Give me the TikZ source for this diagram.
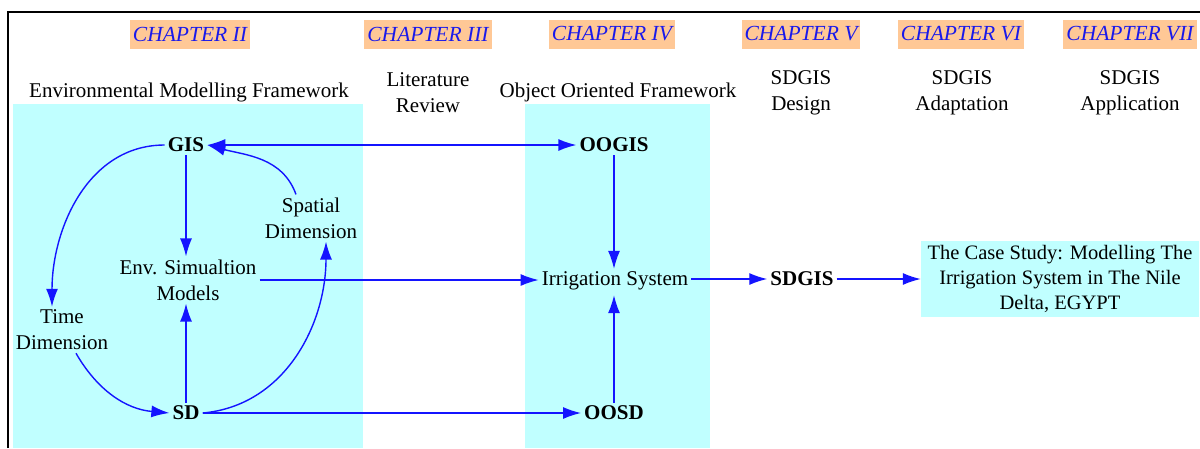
\documentclass[tikz,border=0pt]{standalone}
\usepackage{fontspec}
\setmainfont{Liberation Serif}
\usetikzlibrary{arrows.meta}
\definecolor{bgcyan}{RGB}{192,255,255}
\definecolor{peach}{RGB}{255,200,150}
\definecolor{chblue}{RGB}{25,25,235}
\definecolor{arrblue}{RGB}{20,20,255}
\begin{document}
\begin{tikzpicture}[x=1pt,y=-1pt,
  txt/.style={font=\fontsize{21}{26}\selectfont, align=center, inner sep=3pt},
  boldtxt/.style={font=\fontsize{21}{26}\selectfont\bfseries, align=center, inner sep=3pt},
  chap/.style={fill=peach, text=chblue, font=\fontsize{21.5}{26}\selectfont\itshape, inner xsep=3pt, inner ysep=0pt, minimum height=29pt},
  tip/.tip={Latex[length=18pt,width=12pt]},
  arr/.style={draw=arrblue, line width=1.4pt, -tip},
  ]
\useasboundingbox (0,0) rectangle (1200,448);
% background panels
\fill[bgcyan] (13,104) rectangle (363,448);
\fill[bgcyan] (525,104) rectangle (710,448);
% frame
\draw[line width=2pt] (8,448) -- (8,12) -- (1200,12);

% chapter labels
\node[chap] (c2) at (190,34) {CHAPTER II};
\node[chap] (c3) at (428,34) {CHAPTER III};
\node[chap] (c4) at (612,34) {CHAPTER IV};
\node[chap] (c5) at (801,34) {CHAPTER V};
\node[chap] (c6) at (961,34) {CHAPTER VI};
\node[chap] (c7) at (1130,34) {CHAPTER VII};

% column titles
\node[txt] (emf) at (189,92) {Environmental Modelling Framework};
\node[txt] (lit) at (428,93) {Literature\\Review};
\node[txt] (oof) at (618,92) {Object Oriented Framework};
\node[txt] (sdd) at (801,93) {SDGIS\\Design};
\node[txt] (sda) at (962,93) {SDGIS\\Adaptation};
\node[txt] (sdp) at (1130,93) {SDGIS\\Application};

% main nodes
\node[boldtxt] (gis) at (186,145) {GIS};
\node[boldtxt] (oogis) at (614,145) {OOGIS};
\node[txt] (env) at (188,280) {Env. Simualtion\\Models};
\node[txt] (time) at (62,330) {Time\\Dimension};
\node[txt] (spat) at (311,218) {Spatial\\Dimension};
\node[boldtxt] (sd) at (186,413) {SD};
\node[txt, text depth=0pt] (irr) at (615,279) {Irrigation System};
\node[boldtxt] (oosd) at (614,413) {OOSD};
\node[boldtxt] (sdgis) at (802,279) {SDGIS};
\node[txt, fill=bgcyan, minimum width=278pt, minimum height=76pt,
      font=\fontsize{20.5}{25}\selectfont] (case) at (1060,279)
      {The Case Study: Modelling The\\Irrigation System in The Nile\\Delta, EGYPT};

% straight connectors
\draw[arr, tip-tip] (gis) -- (oogis);
\draw[arr] (gis.south) -- (gis.south |- env.north);
\draw[arr] (sd.north) -- (sd.north |- env.south);
\draw[arr] (env.east) -- (env.east -| irr.west);
\draw[arr] (oogis.south) -- (oogis.south |- irr.north);
\draw[arr] (oosd.north) -- ([yshift=-6pt]oosd.north |- irr.south);
\draw[arr] (sd.east) -- (oosd.west);
\draw[arr] (irr.east) -- (irr.east -| sdgis.west);
\draw[arr] (sdgis.east) -- (case.west);

% curved connectors
\draw[arr] (gis.west) to[out=180,in=90] ([xshift=-10pt]time.north);
\draw[arr] ([xshift=14pt]time.south) to[out=-60,in=175] (sd.west);
\draw[arr] (sd.east) to[out=5,in=-90] ([xshift=15pt]spat.south);
\draw[arr] ([xshift=-15pt]spat.north) to[out=110,in=-15] (gis.east);
\end{tikzpicture}
\end{document}
